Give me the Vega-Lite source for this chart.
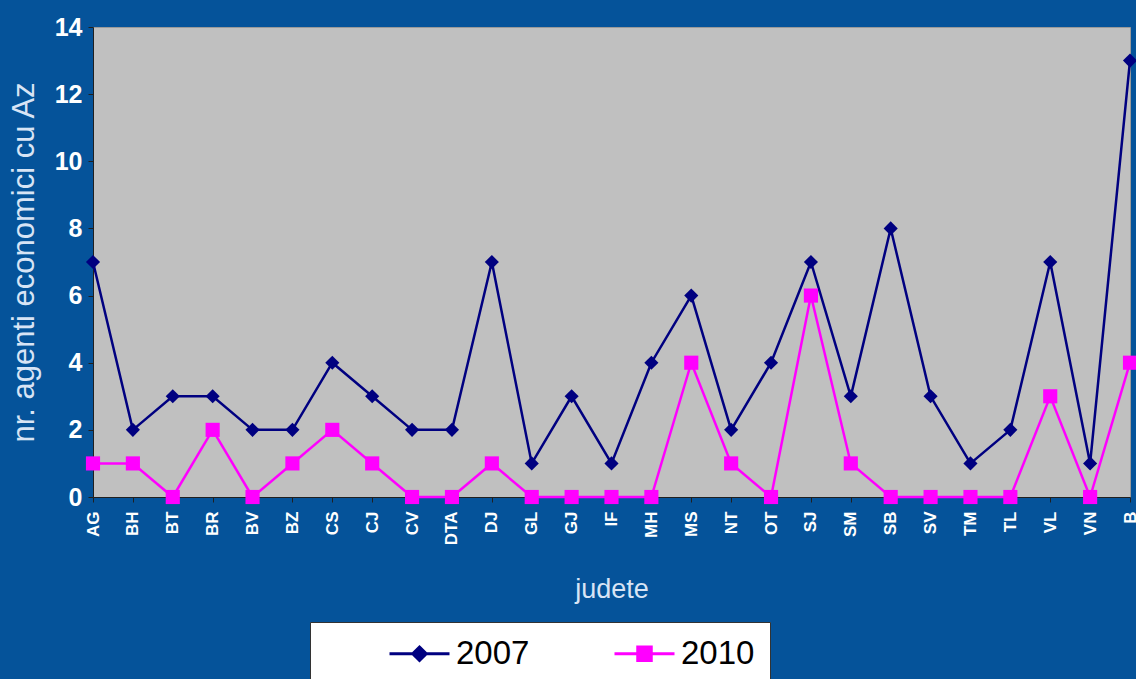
{
  "$schema": "https://vega.github.io/schema/vega-lite/v6.json",
  "autosize": "none",
  "width": 1037,
  "height": 470,
  "padding": {"left": 93, "top": 27, "right": 6, "bottom": 182},
  "background": "#05539A",
  "config": {
    "view": {"fill": "#C0C0C0", "stroke": "#9A9A9A", "strokeWidth": 1},
    "font": "Liberation Sans"
  },
  "data": {
    "values": [
      {"judet": "AG", "an": "2007", "n": 7}, {"judet": "BH", "an": "2007", "n": 2},
      {"judet": "BT", "an": "2007", "n": 3}, {"judet": "BR", "an": "2007", "n": 3},
      {"judet": "BV", "an": "2007", "n": 2}, {"judet": "BZ", "an": "2007", "n": 2},
      {"judet": "CS", "an": "2007", "n": 4}, {"judet": "CJ", "an": "2007", "n": 3},
      {"judet": "CV", "an": "2007", "n": 2}, {"judet": "DTA", "an": "2007", "n": 2},
      {"judet": "DJ", "an": "2007", "n": 7}, {"judet": "GL", "an": "2007", "n": 1},
      {"judet": "GJ", "an": "2007", "n": 3}, {"judet": "IF", "an": "2007", "n": 1},
      {"judet": "MH", "an": "2007", "n": 4}, {"judet": "MS", "an": "2007", "n": 6},
      {"judet": "NT", "an": "2007", "n": 2}, {"judet": "OT", "an": "2007", "n": 4},
      {"judet": "SJ", "an": "2007", "n": 7}, {"judet": "SM", "an": "2007", "n": 3},
      {"judet": "SB", "an": "2007", "n": 8}, {"judet": "SV", "an": "2007", "n": 3},
      {"judet": "TM", "an": "2007", "n": 1}, {"judet": "TL", "an": "2007", "n": 2},
      {"judet": "VL", "an": "2007", "n": 7}, {"judet": "VN", "an": "2007", "n": 1},
      {"judet": "B", "an": "2007", "n": 13},
      {"judet": "AG", "an": "2010", "n": 1}, {"judet": "BH", "an": "2010", "n": 1},
      {"judet": "BT", "an": "2010", "n": 0}, {"judet": "BR", "an": "2010", "n": 2},
      {"judet": "BV", "an": "2010", "n": 0}, {"judet": "BZ", "an": "2010", "n": 1},
      {"judet": "CS", "an": "2010", "n": 2}, {"judet": "CJ", "an": "2010", "n": 1},
      {"judet": "CV", "an": "2010", "n": 0}, {"judet": "DTA", "an": "2010", "n": 0},
      {"judet": "DJ", "an": "2010", "n": 1}, {"judet": "GL", "an": "2010", "n": 0},
      {"judet": "GJ", "an": "2010", "n": 0}, {"judet": "IF", "an": "2010", "n": 0},
      {"judet": "MH", "an": "2010", "n": 0}, {"judet": "MS", "an": "2010", "n": 4},
      {"judet": "NT", "an": "2010", "n": 1}, {"judet": "OT", "an": "2010", "n": 0},
      {"judet": "SJ", "an": "2010", "n": 6}, {"judet": "SM", "an": "2010", "n": 1},
      {"judet": "SB", "an": "2010", "n": 0}, {"judet": "SV", "an": "2010", "n": 0},
      {"judet": "TM", "an": "2010", "n": 0}, {"judet": "TL", "an": "2010", "n": 0},
      {"judet": "VL", "an": "2010", "n": 3}, {"judet": "VN", "an": "2010", "n": 0},
      {"judet": "B", "an": "2010", "n": 4}
    ]
  },
  "encoding": {
    "x": {
      "field": "judet", "type": "nominal", "sort": null,
      "scale": {"type": "point", "padding": 0},
      "axis": {
        "title": "judete", "titleColor": "#D8E4F5",
        "titleFontSize": 27, "titleFontWeight": "normal", "titlePadding": 32,
        "labelAngle": -90, "labelColor": "white", "labelFontSize": 17,
        "labelFontWeight": "bold", "labelPadding": 9, "labelBaseline": "middle",
        "labelAlign": "right",
        "domainColor": "#202020", "tickColor": "#202020", "tickSize": 5, "grid": false
      }
    },
    "y": {
      "field": "n", "type": "quantitative",
      "scale": {"domain": [0, 14]},
      "axis": {
        "title": "nr.  agenti  economici  cu  Az", "titleColor": "#D8E4F5",
        "titleFontSize": 31, "titleFontWeight": "normal", "titlePadding": 14,
        "values": [0, 2, 4, 6, 8, 10, 12, 14],
        "labelColor": "white", "labelFontSize": 25, "labelFontWeight": "bold",
        "labelPadding": 6,
        "domainColor": "#202020", "tickColor": "#202020", "tickSize": 5, "grid": false
      }
    },
    "color": {
      "field": "an", "type": "nominal",
      "scale": {"domain": ["2007", "2010"], "range": ["#000080", "#FF00FF"]},
      "legend": {
        "title": null, "orient": "none", "legendX": 217, "legendY": 595,
        "direction": "horizontal", "columns": 2,
        "fillColor": "white", "strokeColor": "#333333", "padding": 15,
        "labelFontSize": 33, "labelColor": "black",
        "symbolSize": 900, "symbolOffset": 78, "columnPadding": 20,
        "labelOffset": 20,
        "encode": {
          "symbols": {
            "update": {
              "shape": {"signal": "datum.value == '2007' ? 'M-2,0H2M0,-0.45L0.45,0L0,0.45L-0.45,0Z' : 'M-2,0H2M-0.45,-0.45H0.45V0.45H-0.45Z'"},
              "fill": {"signal": "datum.value == '2007' ? '#000080' : '#FF00FF'"},
              "stroke": {"signal": "datum.value == '2007' ? '#000080' : '#FF00FF'"},
              "strokeWidth": {"value": 3},
              "opacity": {"value": 1}
            }
          }
        }
      }
    }
  },
  "layer": [
    {"mark": {"type": "line", "strokeWidth": 2.5}},
    {
      "transform": [{"filter": "datum.an == '2007'"}],
      "mark": {"type": "point", "filled": true, "opacity": 1, "shape": "diamond", "size": 200}
    },
    {
      "transform": [{"filter": "datum.an == '2010'"}],
      "mark": {"type": "point", "filled": true, "opacity": 1, "shape": "square", "size": 200}
    }
  ]
}
